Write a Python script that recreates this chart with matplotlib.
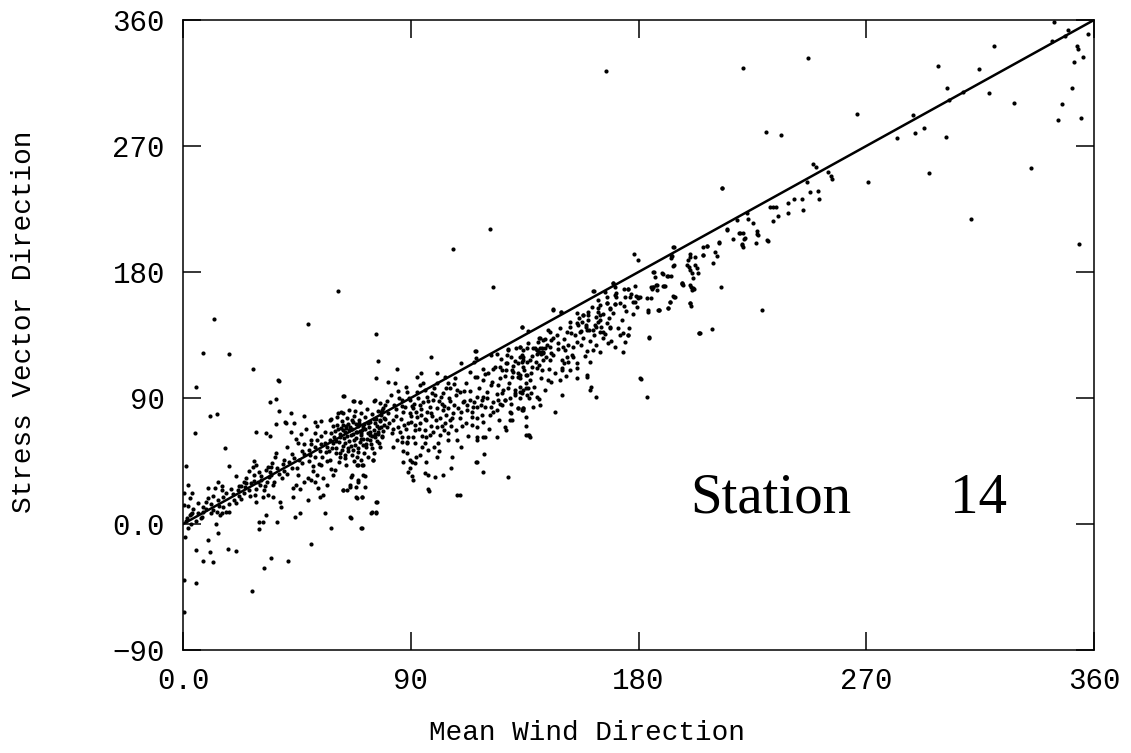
import matplotlib
matplotlib.use("Agg")
import matplotlib.pyplot as plt

# ---------------- data ----------------
# (mean wind direction, stress vector direction) in degrees
pts_low = [
    (5, 98), (38, 102), (34.3, 87.4), (36.9, 89.3), (10.5, 77), (13.4, 78.4), (37.9, 81), (4.7, 65),
    (29, 65.5), (32.9, 64.8), (34.5, 63.1), (16.5, 54), (1.3, 41.5), (18, 41.5), (3.7, 22.4), (2.6, 18.4),
    (1.8, 12.9), (0.2, 13.6), (9.9, 25.5), (9.9, 18.4), (12.8, 25.5), (15.4, 27.2), (15.5, 24.3), (9, 10.5),
    (11.2, 14.3), (14.2, 12.9), (13.6, 8.9), (14.5, 6.5), (15.5, 8.1), (16.9, 8.9), (18.2, 8.9), (3.3, 7),
    (5.9, 7.7), (7.9, 8.9), (13.2, 0), (13.8, -6.1), (0.7, -9), (9.9, -11.4), (5, -18.5), (10.5, -20.2),
    (7.9, -26.1), (11.9, -26.9), (17.8, -18), (20.8, -19), (0.2, -40), (5, -42.3), (0.2, -63), (27.3, -47.9),
    (32, -31.7), (34.7, -24.5), (41.5, -26.1), (12.3, 146.4), (7.9, 122), (18.2, 121.4), (27.7, 110.7),
    (37.5, 102.9), (28, 45), (27.7, 41), (36.9, 51), (36.2, 47.7), (35.3, 43.9), (34.9, 40.5), (39.5, 42.9),
    (19.8, 21.5), (21.7, 24.3), (23, 27.2), (24.4, 26.7), (25, 32.7), (27.9, 35), (29.6, 30.3), (31, 31.5),
    (30.3, 27.9), (32.3, 27.2), (34, 33.8), (34.9, 35), (34.5, 37.4), (32.9, 38.6), (15.8, 19.6), (2.6, 6.5),
    (3.7, 8.1), (28.3, 20.8), (28.7, 16), (31.6, 19.6), (33.6, 20.8), (35.6, 19.1), (38.2, 16), (38.9, 12.4),
    (37.2, 1.7), (30, 1.7), (31.6, 1.7), (30, -3.5), (32.9, 6.5), (40.2, 73), (40.6, 72), (36.6, 71.2),
    (20, 17), (22, 20), (24, 22), (26, 24), (27, 29), (29, 25), (31, 34), (33, 30), (36, 30), (38, 36),
    (40, 38), (18, 14), (12, 10), (7, 4), (5, 2), (8, 12), (26, 38), (29, 42), (24, 30), (22, 27),
    (1, 2), (2, -3), (0.5, 22), (2, 28),
    (1.5, 4), (3, 0), (4, 11), (6, 15), (7.5, 5), (9, 16), (11, 8), (12, 20), (14, 17), (16, 12), (17, 22),
    (19, 25), (21, 15), (23, 18), (25, 29), (26.5, 20), (28, 31), (30, 37), (32, 24), (33.5, 41), (35.5, 28),
    (37, 40), (39, 33), (40, 46), (21, 34), (14, 30),
]

pts_mid = [
    (42.8, 79.6), (47.7, 77.2), (52, 73), (54.4, 73.6), (58, 74.3), (52.3, 65.3), (54.7, 62.9), (58.4, 64.8),
    (44.8, 60.5), (45.5, 57.7), (47.7, 56.9), (50.7, 56.9), (49.8, 52.9), (47.2, 43.9), (51.4, 41.5),
    (54.7, 42.2), (58, 45.8), (43.5, 25.5), (43.5, 19.6), (46.1, 24.8), (49.4, 32.7), (50.7, 31.5), (52, 30.3),
    (53.4, 25.5), (54, 19.6), (55.3, 20.8), (49.4, 17.2), (46.1, 8.1), (44.1, 5.3), (50.5, -14.2),
    (58.6, -2.6), (63.2, 24.3), (65.9, 26.7), (66.5, 33.8), (68.5, 26.7), (69.2, 30.3), (68.5, 19.1),
    (70.9, 19.1), (71.8, 34.3), (69.2, 42.2), (71.1, 42.2), (75.1, 45.8), (76.4, 16), (74.4, 8.1), (76.2, 8.1),
    (65.9, 4.8), (70.5, -3.1), (56, 8.1), (56.7, 51.7), (59.3, 57.7), (60.6, 50.5), (61.9, 48.1), (63.9, 49.3),
    (65.2, 54.1), (67.2, 52.9), (69.2, 51.7), (71.1, 56.5), (73.8, 60.1), (75.8, 62.4), (77.1, 66),
    (78.4, 69.6), (63.5, 91.5), (67.2, 88.1), (69.8, 87), (75.8, 88.6), (77.7, 86.2), (61.4, 79.1),
    (62.6, 80.3), (58.6, 74.8), (61.3, 166.7), (49.4, 143.1), (76.4, 135.7), (76.9, 116.7), (76.1, 104.6),
    (63.4, 91.7), (67.6, 88.1), (70, 87.4), (75.5, 88.1), (75.2, 45.7), (70.6, 42.2), (68.6, 42.2), (71.3, 35),
    (66.7, 35), (69.3, 31.5), (72, 26.7), (66, 27.9), (64.7, 24.3), (63.4, 24.3), (68.6, 18.4), (70.6, 19.6),
    (76.5, 15.5), (74.6, 8.8), (76.1, 8.8), (66.3, 4.6), (70.6, -3.1), (60.1, 38.6), (59.4, 35),
    (42, 44), (44, 47), (46, 46), (48, 50), (50, 49), (52, 55), (54, 52), (56, 58), (57, 55), (58, 60),
    (59, 54), (45, 40), (55, 48), (53, 60), (41, 36), (43, 40),
    (41, 55), (42.5, 66), (43.2, 50), (44, 72), (45.3, 35), (46.5, 64), (47.2, 52), (48, 30), (48.8, 68),
    (49.6, 45), (50.4, 60), (51.2, 38), (52, 48), (52.8, 70), (53.6, 43), (54.4, 57), (55.2, 33), (56, 66),
    (56.8, 45), (57.6, 52), (58.4, 39), (59.2, 70), (44.5, 28), (53, 35), (57, 28),
]

pts_cluster = [
    (59.5, 62), (60.2, 66.5), (60.8, 71), (61.5, 58.3), (61.9, 64), (62.3, 68.7), (62.8, 73.5), (63.1, 55.6),
    (63.6, 61.2), (64, 65.8), (64.4, 70.2), (64.9, 75.9), (65.3, 52.4), (65.7, 59), (66.2, 63.3), (66.6, 67.9),
    (67, 72.6), (67.5, 77.4), (67.9, 56.1), (68.3, 61.7), (68.8, 65.5), (69.2, 69.8), (69.6, 74.1), (70.1, 58.4),
    (70.5, 63.9), (70.9, 67.1), (71.4, 71.6), (71.8, 76.3), (72.2, 54.7), (72.7, 60.5), (73.1, 65.2),
    (73.5, 69.4), (74, 73), (74.4, 57.2), (74.8, 62.8), (75.3, 67.3), (75.7, 71.8), (76.1, 75.1), (76.6, 59.6),
    (77, 64.1), (77.4, 68.5), (77.9, 73.3), (78.3, 77.6), (78.7, 62.2), (79.2, 66.7), (79.6, 71), (80, 74.8),
    (60.4, 54), (62.1, 50.7), (64.2, 47.5), (66.8, 49.2), (68.9, 47.9), (71.6, 50.4), (61, 76.5), (63.3, 79.2),
    (65.6, 81.5), (68.1, 80.7), (70.4, 79.6), (72.9, 82.3), (74.6, 78.9), (76.9, 80.6), (79.1, 82.9), (66, 69.5),
    (67.3, 64.6), (68.5, 71.3), (69.9, 66.2), (64.6, 68.3), (71.2, 69.3), (63.2, 66.9), (65.1, 71.4),
    (70.2, 60.8), (73.8, 63.6),
    (60.5, 59), (61.2, 68), (62, 62), (62.7, 53), (63.4, 71), (64.1, 58), (64.8, 63), (65.5, 67), (66.2, 56),
    (66.9, 74), (67.6, 60), (68.3, 66), (69, 54), (69.7, 72), (70.4, 65), (71.1, 61), (71.8, 68), (72.5, 57),
    (73.2, 72), (73.9, 66), (74.6, 54), (75.3, 75), (76, 64), (76.7, 70), (77.4, 58), (78.1, 80), (78.8, 63),
    (79.5, 76), (61.8, 44), (64.5, 42), (67.4, 45), (70.2, 46), (73, 48), (75.6, 51), (78, 55),
]

pts_upper_mid = [
    (84.4, 110.5), (98, 119.6), (100.5, 107.6), (93.9, 107.6), (81.2, 101.2), (83.8, 100.5), (115.8, 123.6),
    (115.7, 118.4), (124, 121.2), (109.7, 114.8), (114.8, 116), (118.7, 110.5), (120.7, 108.1), (122.7, 110.5),
    (113.4, 108.8), (116.1, 105.3), (118.7, 102.9), (122, 101.7), (124.6, 99.3), (110.8, 87.4), (112.1, 85),
    (114.8, 87.4), (116.1, 83.8), (118.7, 91), (120, 94.6), (122.7, 87.4), (116.1, 75.5), (114.1, 70.7),
    (119.4, 62.4), (116.1, 60), (118.4, 37.5), (115.7, 44.6), (102.9, 93.4), (105.5, 96.9), (108.2, 95.7),
    (107.5, 104.1), (104.9, 100.5), (103.5, 105.3), (100.3, 100.5), (98.3, 93.4), (98.9, 88.6), (100.3, 82.6),
    (102.9, 81.5), (104.9, 82.6), (106.8, 79), (109.5, 75.5), (105.5, 74.3), (103.6, 72), (100.3, 69.6),
    (101.6, 63.6), (104.9, 60), (106.2, 48.1), (108.4, 20.8), (102.9, 35), (99.6, 33.8), (97.2, 23.9),
    (95.7, 36.2), (92.4, 105.3), (93.7, 99.3), (95.7, 95.7), (96.3, 91), (95, 87.4), (97.6, 83.8), (93.7, 85),
    (91, 82.6), (89.7, 88.6), (88.4, 94.6), (86.4, 88.6), (87.7, 83.8), (89.7, 79), (92.4, 76.7), (93.7, 72),
    (91.7, 67.2), (95.7, 67.2), (97.6, 63.6), (95.7, 57.6), (99, 55.3), (94.3, 55.3), (91, 62.4), (88.4, 58.8),
    (86.4, 62.4), (85.1, 69.6), (83.1, 74.3), (81.2, 79), (79.8, 85), (78.5, 81.5), (77.9, 74.3), (80.5, 69.6),
    (82.5, 64.8), (84.4, 60), (86.4, 58.8), (88.4, 50.5), (90.4, 44.6), (89.1, 37.4), (90.4, 34.3),
    (91.7, 43.4), (87.1, 44.6), (121.5, 210.7), (106.5, 196.2), (122.5, 169), (115.3, 123.8), (121.9, 120.7),
    (116, 62.4), (118.6, 62.4), (116, 44.5), (123.9, 62.4), (109.4, 20.7), (108.3, 60), (97, 52.9),
    (100.3, 48.1), (93.7, 49.3), (97, 35), (89.7, 45.7), (89.7, 39.8), (91, 31.4), (97, 24.7), (88.4, 57.6),
    (113.4, 88.6), (114.7, 83.8), (112.1, 81.4), (114.1, 76.7), (118, 77.9), (121.3, 77.9), (118, 88.6),
    (116, 91), (119.3, 83.8), (121.9, 83.8), (123.9, 81.4), (124.6, 88.6),
    (86, 75), (87, 80), (88, 68), (89, 72), (90, 77), (90.5, 84), (91.5, 71), (92, 80), (93, 90), (94, 78),
    (94.5, 63), (96, 74), (96.5, 80), (98, 70), (98.5, 77), (99.5, 92), (101, 88), (101.5, 76), (102.5, 86),
    (103, 67), (104, 78), (105, 90), (106, 70), (107, 85), (108, 92), (110, 80), (111, 95), (112, 72),
    (84, 82), (85.5, 90),
    (80.5, 88), (81.5, 72), (82, 92), (82.8, 68), (83.5, 85), (84.2, 77), (85, 95), (85.8, 66), (86.7, 84),
    (87.3, 71), (88.1, 98), (88.9, 62), (89.4, 90), (90.2, 73), (91.1, 86), (91.8, 58), (92.6, 94), (93.2, 68),
    (94, 82), (94.8, 101), (95.5, 75), (96.2, 62), (97, 88), (97.9, 79), (98.7, 66), (99.3, 97), (100.1, 74),
    (100.9, 58), (101.8, 91), (102.4, 70), (103.2, 84), (104.1, 97), (104.8, 65), (105.6, 88), (106.4, 76),
    (107.1, 100), (108, 67), (108.8, 83), (109.6, 94), (110.3, 70), (111.2, 88), (112, 101), (112.8, 63),
    (113.6, 95), (114.4, 80), (115.2, 105), (116, 69), (116.9, 97), (117.7, 85), (118.5, 73), (119.3, 107),
    (120.1, 90), (121, 68), (121.8, 99), (122.6, 80), (123.4, 112), (124.2, 93), (124.9, 74), (83, 55),
    (87, 52), (92, 48), (96, 44), (101, 52), (106, 40), (110, 55), (119, 50),
]

pts_high = [
    (128.6, 124.8), (133.2, 126.7), (135.8, 125.5), (125.3, 112.4), (127.9, 114.8), (129.9, 110),
    (131.2, 116.5), (133.9, 116), (134.5, 119.6), (129.9, 105.3), (133.2, 104.1), (135.8, 106.5), (128.6, 97),
    (131, 93.4), (133.2, 94.6), (135.8, 92.2), (134.5, 82.6), (133.9, 81.5), (136.9, 63.6), (128.6, 33.8),
    (129.9, 74.3), (125.3, 85.7), (127.3, 88.6), (126, 93.4), (133.8, 141), (135.8, 116), (134.4, 112.4),
    (133.1, 106.4), (134.4, 95.7), (136.4, 96.9), (136.7, 89.8), (134.4, 81.4), (136.4, 63.6), (132.4, 82.6),
    (129.1, 80.3), (127.2, 69.5), (136.4, 138.1), (146.3, 153.3), (149.3, 151.7), (162.1, 166.4),
    (166.7, 166), (170, 171.9), (170.7, 163.6), (175.7, 167.6), (179.2, 162.9), (179.9, 161.2), (164.7, 156.4),
    (167.4, 157.6), (168.7, 153.3), (170.7, 157.1), (174.6, 162.4), (177.9, 158.8), (164.1, 151.7),
    (163.4, 148.1), (164.7, 145.7), (162.7, 142.2), (162.1, 138.6), (164.7, 137.4), (167.4, 143.3),
    (168.7, 139.8), (166.1, 132.6), (168, 129), (170.7, 126.7), (173.7, 136.2), (174.6, 130.3), (175.9, 135),
    (173.9, 123.1), (164.7, 123.1), (162.1, 124.3), (159.5, 123.6), (160.8, 116), (159.7, 105.3),
    (161.4, 98.1), (163.4, 91), (160.1, 149.3), (157.5, 144.5), (157.9, 149.3), (159.2, 141), (159.7, 138.6),
    (156.8, 137.4), (155.5, 143.3), (152.9, 144.5), (151.6, 137.4), (153.5, 136.2), (155.5, 130.3),
    (154.2, 126.7), (154.2, 119.5), (151.6, 119.5), (152.2, 116), (152.9, 110), (149.6, 111.2),
    (150.5, 114.8), (150.9, 124.3), (150.2, 126.7), (148.3, 129), (145.6, 131.4), (142.3, 131.4),
    (140.7, 132.6), (144.3, 138.6), (147.6, 135), (145, 126.7), (146.3, 120.7), (143.6, 119.5), (141.7, 123.1),
    (139.7, 124.3), (138.4, 125.5), (141, 125.5), (142.3, 121.9), (145, 117.2), (140.7, 113.6), (141.7, 110),
    (144.3, 102.9), (145.6, 101.7), (148.9, 102.9), (149.6, 110), (155.5, 111.2), (155.5, 104.1),
    (159.7, 106.4), (161, 95.7), (149.6, 92.2), (146.9, 80.3), (133.1, 126.7), (134.4, 124.3), (128.5, 124.3),
    (133.1, 119.5), (134.4, 117.2), (132.4, 114.8), (129.8, 119.5), (127.8, 114.8), (127.8, 110),
    (125.9, 110), (125.2, 104.1), (130.5, 108.8), (132.4, 105.3), (135.7, 106.4), (137.7, 107.6),
    (138.1, 112.4), (139.7, 111.2), (137, 117.2), (135.7, 100.5), (133.1, 98.1), (131.1, 95.7), (133.8, 93.4),
    (131.1, 92.2), (129.2, 89.8), (127.2, 88.6), (125.9, 85), (137.7, 93.4), (139.7, 91), (140.7, 89),
    (141, 85), (138.4, 83.8), (134.4, 82.6), (132.4, 82.6), (129.8, 79), (129.2, 74.3), (135.7, 76.7),
    (135.5, 70), (135.7, 63.6), (137, 61.9), (127.6, 67.2), (139, 125.5), (140, 124.3), (140.7, 123.1),
    (141.7, 125.5), (142.3, 123.1), (139.7, 121.4), (141.3, 121.4), (143, 125.5), (167.3, 323.8),
    (180.8, 103.4), (183.2, 91), (184.2, 133.3), (155.5, 150.5), (156.1, 142.1), (157.4, 138.1),
    (160.1, 151.7), (158.1, 149.3), (159.4, 142.1), (160.5, 138.6), (164, 154), (164.7, 149.3), (164, 144.5),
    (163.4, 141), (167.6, 157.6), (170.6, 157.1), (171.3, 162.4), (168.6, 154), (174.2, 155.7),
    (178.5, 158.8), (170, 172.4), (170.6, 169.5), (162.3, 166.7), (175.9, 167.6), (176.5, 162.4),
    (179.8, 161.9), (166, 137.4), (168.6, 141), (172.6, 135), (175.9, 135), (144.9, 137.4), (134.1, 141),
    (141, 132.6), (143, 132.1), (178.1, 192.9), (179.8, 188.6), (146.2, 152.9), (149.5, 151.2),
    (125.8, 118), (126.5, 96), (127.4, 106), (128.2, 121), (129, 101), (129.8, 86), (130.6, 113), (131.4, 126),
    (132.2, 108), (133, 90), (133.8, 121), (134.7, 110), (135.5, 97), (136.3, 129), (137.1, 103), (138, 120),
    (138.8, 98), (139.6, 116), (140.4, 130), (141.3, 104), (142.1, 117), (142.9, 96), (143.8, 128),
    (144.6, 111), (145.4, 122), (146.3, 133), (147.1, 108), (148, 125), (148.8, 140), (149.7, 117),
    (150.5, 132), (151.4, 106), (152.2, 128), (153.1, 141), (153.9, 121), (154.8, 135), (155.6, 115),
    (156.5, 147), (157.3, 128), (158.2, 133), (159, 120), (159.9, 146), (160.7, 131), (161.6, 155),
    (162.4, 135), (163.3, 128), (164.1, 160), (165, 141), (165.8, 150), (166.7, 136), (167.5, 162),
    (168.4, 147), (169.2, 131), (170.1, 151), (171, 165), (171.8, 140), (172.7, 158), (173.5, 146),
    (174.4, 168), (175.2, 152), (176.1, 140), (177, 164), (177.8, 150), (178.7, 170), (179.5, 155),
]

pts_upper = [
    (183.2, 161.2), (183.8, 152.9), (185.1, 169.5), (187.1, 170.7), (190.4, 170), (188.2, 152.9),
    (191.7, 154.5), (193.7, 162.9), (197, 171.4), (200.6, 169.5), (200.3, 157.6), (204, 136.7),
    (193.9, 197.6), (193, 192.1), (186, 180.2), (189.7, 178.6), (191.7, 177.1), (193, 177.1), (193.7, 184.3),
    (185.8, 169.5), (187.4, 167.1), (189.7, 170.2), (197, 171.9), (185.1, 161.2), (188.1, 152.9),
    (192.4, 158.8), (194.3, 162.4), (213.1, 240.2), (249.1, 257.1), (250, 255.2), (255, 251.6), (256, 248.5),
    (256.6, 246.1), (246.5, 244.5), (247.8, 237.3), (250.8, 238.1), (251.4, 231.9), (244.8, 231.9),
    (244.9, 224.2), (241.5, 231.9), (238.9, 229.5), (238.9, 221.9), (235.3, 219.9), (233.3, 216.6),
    (232, 226.6), (233.3, 226.6), (234.4, 226.1), (230.9, 202.8), (226.7, 209.5), (227, 207.1),
    (226.5, 200.9), (225.1, 215.2), (223.4, 217.6), (222.8, 222.3), (218.8, 217.1), (219.7, 208.1),
    (221.2, 208.1), (221.7, 203.3), (220.8, 200), (221.4, 198.1), (217.5, 203.3), (214.9, 210), (212, 201.1),
    (210.2, 194.5), (210.9, 191.4), (209.6, 186.6), (212.6, 169), (207, 198.8), (205.4, 198.1),
    (205.6, 192.1), (202.3, 190.9), (200.4, 192.8), (200.4, 190.9), (199.7, 188.5), (199.3, 185),
    (200.1, 183.8), (200.4, 181.4), (201, 179), (201.7, 175.4), (202.3, 185), (203, 182.6), (203.7, 179.5),
    (200.4, 170.7), (201.4, 168.3), (201, 167.1), (202.1, 167.6), (200.4, 158.1), (200.6, 155.9),
    (193.8, 198.1), (193.1, 191.4), (192.7, 189.7), (194.2, 185), (185.9, 180.2), (186.5, 176.6),
    (189.2, 179), (191.1, 177.1), (190.2, 170), (187.2, 170.7), (185.6, 169), (185.2, 167.6), (194.2, 162.4),
    (192.5, 158.8), (191.8, 154), (187.8, 152.8), (183.6, 151.1), (197.1, 171.9), (197.5, 170.7),
    (203.9, 136.6), (208.9, 139), (228.8, 152.8), (184.3, 133), (180.6, 104), (180.6, 162.4),
    (221.2, 325.5), (247.1, 332.6), (230.2, 279.8), (236.2, 277.9), (266.2, 293.1), (212.9, 240.2),
    (270.8, 244), (211.8, 201), (227.4, 206.4), (231, 202.4), (220.1, 208.1), (222.1, 204), (220.8, 199.3),
    (214.8, 210.5), (207.2, 198.8), (205.6, 192.4), (204.3, 136.2),
]

pts_top = [
    (311.3, 217.6), (294.7, 250.5), (335.1, 254.3), (354.2, 199.8), (344, 358.8), (349.6, 352.9),
    (357.5, 349.8), (343.3, 345), (353.2, 341.7), (353.8, 339), (355.8, 333.8), (352.1, 329.8),
    (351.2, 311.7), (347.5, 299.8), (345.7, 288.6), (354.8, 289.8), (320.4, 341.4), (314.4, 324.8),
    (298.4, 327.1), (301.9, 311.2), (308.1, 308.8), (318.7, 307.6), (328.3, 300.7), (302.8, 302.9),
    (288.6, 292.1), (289.3, 279.5), (293, 283.1), (301.4, 276.7), (282, 275.7), (348.5, 348.6),
]

# 1:1 reference line
line_x = [0, 360]
line_y = [0, 360]

x_ticks = [0, 90, 180, 270, 360]
x_labels = ["0.0", "90", "180", "270", "360"]
y_ticks = [-90, 0, 90, 180, 270, 360]
y_labels = ["\u221290", "0.0", "90", "180", "270", "360"]

# ---------------- plotting ----------------
mono = ["Liberation Mono", "DejaVu Sans Mono"]
serif = ["Liberation Serif", "DejaVu Serif"]

fig = plt.figure(figsize=(11.31, 7.53), dpi=100)
ax = fig.add_axes([183 / 1131, 103 / 753, 911 / 1131, 630 / 753])

all_pts = pts_low + pts_mid + pts_cluster + pts_upper_mid + pts_high + pts_upper + pts_top
wind = [p[0] for p in all_pts]
stress = [p[1] for p in all_pts]

ax.scatter(wind, stress, s=9, c="black", marker="o", linewidths=0, zorder=3)
ax.plot(line_x, line_y, color="black", linewidth=1.8, zorder=4)

ax.set_xlim(0, 360)
ax.set_ylim(-90, 360)
ax.set_xticks(x_ticks)
ax.set_xticklabels(x_labels, family=mono, fontsize=21)
ax.set_yticks(y_ticks)
ax.set_yticklabels(y_labels, family=mono, fontsize=21)
ax.tick_params(direction="in", length=13, width=1.1, top=True, right=True, color="black")
ax.tick_params(axis="x", pad=12)
ax.tick_params(axis="y", pad=13)
for sp in ax.spines.values():
    sp.set_linewidth(1.1)
    sp.set_color("black")

fig.text(587 / 1131, 1 - 733 / 753, "Mean Wind Direction", ha="center", va="center",
         family=mono, fontsize=20)
fig.text(24 / 1131, 1 - 322 / 753, "Stress Vector Direction", ha="center", va="center",
         rotation=90, family=mono, fontsize=20)

ax.text(0.5565, 0.2175, "Station", transform=ax.transAxes, ha="left", va="baseline",
        family=serif, fontsize=41)
ax.text(0.842, 0.2175, "14", transform=ax.transAxes, ha="left", va="baseline",
        family=serif, fontsize=41)

fig.savefig("out.png", dpi=100)
